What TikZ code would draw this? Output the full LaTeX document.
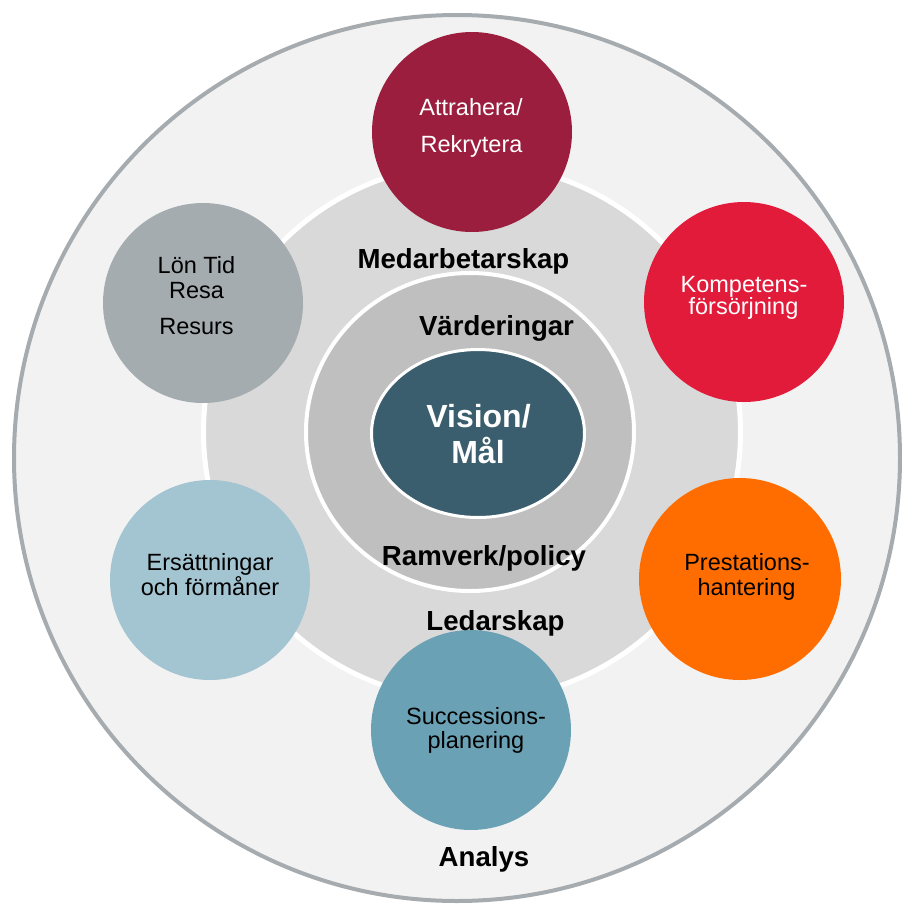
\documentclass[tikz,border=0pt]{standalone}
\usepackage{fontspec}
\setmainfont{Liberation Sans}
\usetikzlibrary{shapes.geometric}
\definecolor{outerfill}{HTML}{F2F2F2}
\definecolor{outerline}{HTML}{A5ABAE}
\definecolor{midfill}{HTML}{D9D9D9}
\definecolor{innerfill}{HTML}{BFBFBF}
\definecolor{visionfill}{HTML}{3A5E6D}
\definecolor{attrfill}{HTML}{9B1E3E}
\definecolor{kompfill}{HTML}{E31B3B}
\definecolor{prestfill}{HTML}{FF6D00}
\definecolor{succfill}{HTML}{6BA1B4}
\definecolor{ersfill}{HTML}{A3C4D1}
\definecolor{lonfill}{HTML}{A5ACAF}
\begin{document}
\begin{tikzpicture}[x=1pt,y=-1pt,
  bub/.style={circle,inner sep=0pt,minimum size=200pt,draw=none,fill=#1},
  lbl/.style={anchor=base,inner sep=0pt,font=\fontsize{23.5}{24}\selectfont},
  blbl/.style={anchor=base,inner sep=0pt,font=\fontsize{27.6}{28}\selectfont\bfseries},
  vlbl/.style={anchor=base,inner sep=0pt,text=white,font=\fontsize{32}{34}\selectfont\bfseries},
]
\useasboundingbox (0,0) rectangle (902,906);
% rings
\node[circle,inner sep=0pt,minimum size=886pt,fill=outerfill,draw=outerline,line width=4pt] (outer) at (457,458) {};
\node[circle,inner sep=0pt,minimum size=537pt,fill=midfill,draw=white,line width=5pt] (mid) at (472,432) {};
\node[ellipse,inner sep=0pt,minimum width=328pt,minimum height=318pt,fill=innerfill,draw=white,line width=4pt] (inner) at (470,432) {};
\node[ellipse,inner sep=0pt,minimum width=213pt,minimum height=168pt,fill=visionfill,draw=white,line width=3pt] (vision) at (478,433.5) {};
% bubbles
\node[bub=attrfill] (attr) at (472,132) {};
\node[bub=kompfill] (komp) at (744,302) {};
\node[bub=prestfill,minimum size=202pt] (prest) at (740,579) {};
\node[bub=succfill] (succ) at (471,730) {};
\node[bub=ersfill] (ers) at (210,580) {};
\node[bub=lonfill] (lon) at (203,303) {};
% bubble texts
\node[lbl,text=white] (attrA) at (471,115) {Attrahera/};
\node[lbl,text=white] (attrB) at (471.5,152) {Rekrytera};
\node[lbl,text=white] (kompA) at (744,292) {Kompetens-};
\node[lbl,text=white] (kompB) at (743.5,314) {försörjning};
\node[lbl] (prestA) at (747,570) {Prestations-};
\node[lbl] (prestB) at (746.5,595) {hantering};
\node[lbl] (succA) at (476,724) {Successions-};
\node[lbl] (succB) at (476,748) {planering};
\node[lbl] (ersA) at (210,570) {Ersättningar};
\node[lbl] (ersB) at (210,595) {och förmåner};
\node[lbl] (lonA) at (196.5,273) {Lön Tid};
\node[lbl] (lonB) at (196.5,298) {Resa};
\node[lbl] (lonC) at (196.5,334) {Resurs};
% ring labels
\node[blbl] (medarb) at (463.5,268) {Medarbetarskap};
\node[blbl] (varde) at (496.5,335) {Värderingar};
\node[blbl] (ramverk) at (484,565) {Ramverk/policy};
\node[blbl] (ledar) at (495.5,630) {Ledarskap};
\node[blbl] (analys) at (484,866) {Analys};
\node[vlbl] (visA) at (478.5,427) {Vision/};
\node[vlbl] (visB) at (478,463) {Mål};
\end{tikzpicture}
\end{document}
